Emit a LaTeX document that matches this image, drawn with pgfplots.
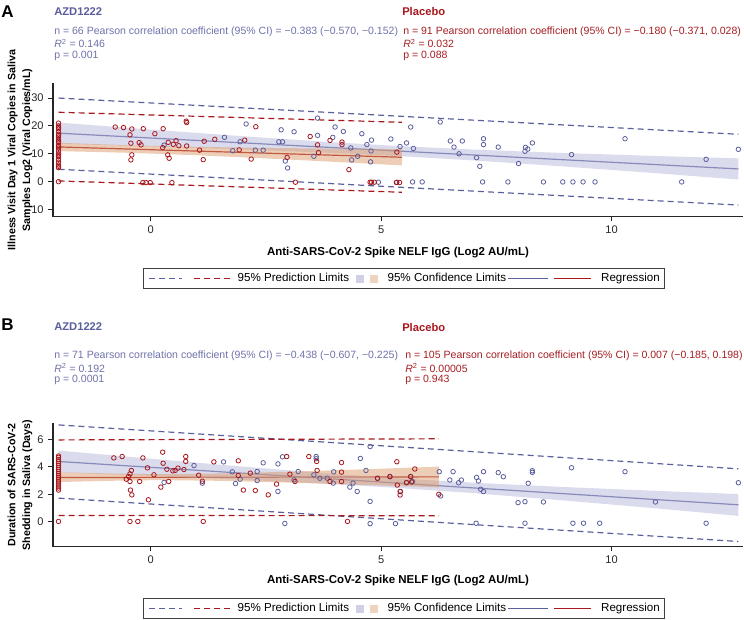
\documentclass[border=0pt]{standalone}
\usepackage{fontspec}
\setmainfont{Liberation Sans}
\usepackage{pgfplots}
\pgfplotsset{compat=1.18}

\definecolor{azd}{HTML}{5B5F9B}
\definecolor{azdtxt}{HTML}{6E72AA}
\definecolor{azdhead}{HTML}{5A5E9A}
\definecolor{pla}{HTML}{A8181E}
\definecolor{platxt}{HTML}{A41E22}
\definecolor{azdband}{HTML}{B5B7DA}
\definecolor{plaband}{HTML}{DB9B6B}

\newcommand{\statfont}{\fontsize{7.9}{9}\selectfont}
\newcommand{\headfont}{\bfseries\fontsize{8.4}{10}\selectfont}

\tikzset{
  pred/.style={line width=0.9pt, dash pattern=on 4.5pt off 3pt},
  reg/.style={line width=0.9pt},
  band/.style={draw=none, fill opacity=0.5},
}
\pgfplotsset{
  panel/.style={
    scale only axis, width=517.5pt,
    axis lines*=left,
    xmin=-2.12, xmax=12.85, xtick={0,5,10},
    tick align=outside, major tick length=3.5pt,
    axis line style={black!85, line width=0.9pt},
    tick style={black!85, line width=0.8pt},
    tick label style={font=\fontsize{8.3}{10}\selectfont, black!85},
    /pgf/number format/assume math mode=true,
    clip=false,
    legend style={draw=black!75, line width=0.6pt, fill=white,
      inner xsep=3.5pt, inner ysep=3.5pt, legend columns=6,
      font=\fontsize{8.7}{10}\selectfont, anchor=north,
      nodes={inner sep=0pt},
      /tikz/every even column/.append style={column sep=0pt},
      /tikz/every odd column/.append style={column sep=0pt}},
  },
  pts/.style={only marks, mark=o, mark size=1.7pt, mark options={line width=0.6pt}},
}

\newcommand{\panellegend}{%
  \addlegendimage{legend image code/.code={\path[draw=none, fill=none] (0pt,-3pt) rectangle (32.25pt,3pt); \draw[azd, pred] (0pt,0pt) -- (24.75pt,0pt);}}
  \addlegendentry{}
  \addlegendimage{legend image code/.code={\path[draw=none, fill=none] (0pt,-3pt) rectangle (33pt,3pt); \draw[pla, pred] (0pt,0pt) -- (29.25pt,0pt);}}
  \addlegendentry{95\% Prediction Limits}
  \addlegendimage{legend image code/.code={\path[draw=none, fill=none] (0pt,-3pt) rectangle (14.25pt,3pt); \path[draw=none, fill=azdband!65!white] (5.25pt,-3pt) rectangle (11.25pt,3pt);}}
  \addlegendentry{}
  \addlegendimage{legend image code/.code={\path[draw=none, fill=none] (0pt,-3pt) rectangle (13.5pt,3pt); \path[draw=none, fill=plaband!45!white] (0pt,-3pt) rectangle (6.5pt,3pt);}}
  \addlegendentry{95\% Confidence Limits}
  \addlegendimage{legend image code/.code={\path[draw=none, fill=none] (0pt,-3pt) rectangle (34.5pt,3pt); \draw[azd, reg] (1.5pt,0pt) -- (31.5pt,0pt);}}
  \addlegendentry{}
  \addlegendimage{legend image code/.code={\path[draw=none, fill=none] (0pt,-3pt) rectangle (35.25pt,3pt); \draw[pla, reg] (0pt,0pt) -- (27.75pt,0pt);}}
  \addlegendentry{Regression\hspace{4.5pt}}
}

\begin{document}
\begin{tikzpicture}

% ---------------- Panel A ----------------
\begin{axis}[panel, at={(39.75pt,-162.5pt)}, anchor=south west, height=100.05pt,
  ymin=-12.57, ymax=35.3, ytick={-10,0,10,20,30}, yticklabels={\textendash10,0,10,20,30},
  legend style={at={(0.5087,-0.388)}}]
\panellegend
\addplot[pts, azd, forget plot] table {
0.29 13.1
1.60 15.9
1.78 11.1
1.94 14.3
2.07 20.7
2.27 11.3
2.44 11.3
2.78 14.3
2.86 14.3
2.83 18.6
3.11 17.9
2.92 7.4
2.97 4.9
3.54 9.1
3.62 22.8
3.62 16.6
3.95 15.9
4.00 19.6
4.18 18.0
4.34 12.1
4.36 7.8
4.49 9.1
4.58 17.2
4.69 13.3
4.78 11.0
4.77 7.1
4.79 14.9
4.94 -0.2
5.21 15.3
5.41 12.6
5.34 -0.2
5.55 13.9
5.64 19.6
5.70 11.9
5.68 -0.1
5.89 -0.1
6.28 21.4
6.50 14.6
6.58 12.4
6.76 14.6
6.69 10.0
7.07 8.6
7.14 5.5
7.20 -0.1
7.22 15.4
7.22 13.3
7.54 12.4
7.75 -0.1
7.98 6.5
8.12 10.9
8.13 12.3
8.18 11.7
8.28 13.9
8.52 -0.1
8.94 -0.1
9.13 9.7
9.16 -0.1
9.38 -0.1
9.64 -0.1
10.29 15.4
11.52 -0.1
12.05 8.0
12.75 11.6
};
\addplot[pts, pla, forget plot] table {
-2.0 0.0
-2.0 5.0
-2.0 5.5
-2.0 6.0
-2.0 7.0
-2.0 8.0
-2.0 9.0
-2.0 9.5
-2.0 10.0
-2.0 11.0
-2.0 12.0
-2.0 12.5
-2.0 13.0
-2.0 14.0
-2.0 14.5
-2.0 15.0
-2.0 16.0
-2.0 16.5
-2.0 17.0
-2.0 18.0
-2.0 19.0
-2.0 19.5
-2.0 20.0
-2.0 21.0
-0.77 19.6
-0.59 19.4
-0.45 16.8
-0.41 18.9
-0.43 13.8
-0.41 9.6
-0.43 7.8
-0.25 14.0
-0.21 13.2
-0.16 19.0
-0.17 -0.35
-0.10 -0.35
-0.01 -0.35
0.09 17.2
0.27 19.0
0.26 12.2
0.38 14.1
0.49 13.4
0.55 14.7
0.61 12.9
0.37 9.6
0.40 8.4
0.46 -0.35
0.77 21.7
0.78 21.2
0.78 12.8
1.06 11.3
1.16 14.5
1.14 7.9
1.39 15.2
1.92 11.4
2.04 14.9
2.18 8.1
2.28 19.7
2.96 8.7
3.14 -0.2
3.46 16.2
3.62 13.2
3.64 10.4
3.89 14.8
4.15 14.2
4.15 13.3
4.30 4.3
4.76 -0.2
4.79 -0.2
4.85 -0.2
5.34 10.6
5.33 -0.3
5.40 -0.3
};
\addplot[reg, azd, forget plot] coordinates {(-2,17.4) (12.75,4.56)};
\addplot[reg, pla, forget plot] coordinates {(-2,12.46) (5.45,8.75)};
\addplot[band, fill=azdband, forget plot] coordinates {
(-2,21.2) (0,18.69) (2,16.29) (4,14.09) (5.4,12.76) (7,11.51) (9,10.25) (11,9.19) (12.75,8.36)
(12.75,0.76) (11,2.99) (9,5.41) (7,7.63) (5.4,9.16) (4,10.27) (2,11.55) (0,12.63) (-2,13.6)} -- cycle;
\addplot[band, fill=plaband, forget plot] coordinates {
(-2,13.96) (-0.5,13.06) (1,12.47) (2.5,12.10) (4,11.85) (5.45,11.67)
(5.45,5.83) (4,7.09) (2.5,8.34) (1,9.47) (-0.5,10.36) (-2,10.96)} -- cycle;
\addplot[pred, azd, forget plot] coordinates {(-2,30.0) (12.75,17.0)};
\addplot[pred, azd, forget plot] coordinates {(-2,4.45) (12.75,-8.4)};
\addplot[pred, pla, forget plot] coordinates {(-2,24.9) (5.45,21.3)};
\addplot[pred, pla, forget plot] coordinates {(-2,0.25) (5.45,-3.8)};
\end{axis}

% ---------------- Panel B ----------------
\begin{axis}[panel, at={(39.75pt,-410pt)}, anchor=south west, height=92.55pt,
  ymin=-1.85, ymax=7.2, ytick={0,2,4,6},
  legend style={at={(0.5087,-0.418)}}]
\panellegend
\addplot[pts, azd, forget plot] table {
0.29 2.86
0.94 4.10
1.12 2.81
1.58 4.37
1.77 3.64
1.84 2.78
1.94 3.10
2.31 3.66
2.31 3.00
2.44 4.30
2.76 4.22
2.76 2.20
2.86 4.74
2.91 -0.15
3.11 3.05
3.20 3.66
3.54 3.42
3.59 4.76
3.59 4.60
3.67 3.17
3.83 3.17
3.97 3.64
3.96 2.81
4.32 2.52
4.39 2.81
4.48 2.20
4.55 4.62
4.67 3.74
4.76 5.49
4.76 1.47
4.76 -0.16
4.92 3.17
5.19 3.30
5.31 -0.16
5.42 2.20
5.55 2.86
5.64 3.30
5.68 2.93
6.26 3.65
6.29 1.87
6.49 3.04
6.56 3.65
6.68 2.84
6.74 3.04
7.06 -0.13
7.07 3.23
7.11 2.97
7.16 2.36
7.22 3.65
7.22 2.19
7.54 3.58
7.65 3.28
7.97 1.38
8.12 1.45
8.12 -0.13
8.19 2.80
8.28 3.72
8.28 3.60
8.52 1.43
9.13 3.94
9.16 -0.13
9.39 -0.13
9.74 -0.13
10.29 3.65
10.95 1.43
12.05 -0.13
12.75 2.84
};
\addplot[pts, pla, forget plot] table {
-2.0 0.0
-2.0 2.30
-2.0 2.45
-2.0 2.60
-2.0 2.75
-2.0 2.90
-2.0 3.05
-2.0 3.20
-2.0 3.35
-2.0 3.50
-2.0 3.65
-2.0 3.80
-2.0 3.95
-2.0 4.10
-2.0 4.25
-2.0 4.40
-2.0 4.55
-2.0 4.70
-2.0 4.80
-0.80 4.66
-0.62 4.76
-0.53 3.10
-0.48 3.30
-0.45 3.49
-0.45 2.93
-0.42 3.74
-0.44 2.30
-0.41 1.95
-0.45 0.0
-0.28 0.0
-0.24 2.93
-0.17 4.66
-0.07 3.93
-0.05 1.59
0.07 3.42
0.22 2.52
0.26 5.08
0.27 4.27
0.35 3.83
0.39 2.93
0.48 3.71
0.53 3.74
0.59 3.91
0.72 3.81
0.76 4.40
0.76 4.76
1.04 3.39
1.12 2.95
1.14 0.0
1.37 4.37
1.90 4.45
1.90 3.37
2.01 2.30
2.16 3.54
2.27 2.27
2.55 1.95
2.73 2.74
2.95 4.76
3.02 3.47
3.13 2.93
3.43 4.76
3.60 4.40
3.61 3.74
3.89 2.93
4.14 4.32
4.14 2.93
4.14 3.62
4.27 0.0
4.92 3.16
5.19 3.28
5.34 4.38
5.41 2.19
5.41 1.94
5.35 2.67
5.55 2.84
5.64 3.28
5.66 2.89
5.73 3.85
6.25 1.99
};
\addplot[reg, azd, forget plot] coordinates {(-2,4.40) (12.75,1.22)};
\addplot[reg, pla, forget plot] coordinates {(-2,3.22) (6.25,3.27)};
\addplot[band, fill=azdband, forget plot] coordinates {
(-2,5.20) (0,4.60) (2,4.02) (4,3.48) (5.4,3.15) (7,2.84) (9,2.52) (11,2.24) (12.75,2.01)
(12.75,0.41) (11,0.95) (9,1.53) (7,2.08) (5.4,2.45) (4,2.73) (2,3.06) (0,3.34) (-2,3.60)} -- cycle;
\addplot[band, fill=plaband, forget plot] coordinates {
(-2,3.61) (-0.5,3.49) (0.3,3.47) (1.5,3.52) (3,3.65) (4.5,3.81) (6.25,4.02)
(6.25,2.50) (4.5,2.69) (3,2.85) (1.5,2.98) (0.3,3.03) (-0.5,3.01) (-2,2.89)} -- cycle;
\addplot[pred, azd, forget plot] coordinates {(-2,7.08) (12.75,3.86)};
\addplot[pred, azd, forget plot] coordinates {(-2,1.71) (12.75,-1.47)};
\addplot[pred, pla, forget plot] coordinates {(-2,5.98) (6.25,6.06)};
\addplot[pred, pla, forget plot] coordinates {(-2,0.44) (6.25,0.42)};
\end{axis}

% ---------------- texts (pixel grid) ----------------
\begin{scope}[x=0.75pt, y=-0.75pt]
\path[use as bounding box] (0,0) rectangle (744,619);
\node[anchor=west, inner sep=0pt, font=\bfseries\fontsize{12.75}{14}\selectfont] at (1,11.7) {A};
\node[anchor=west, inner sep=0pt, font=\headfont, text=azdhead] at (54,11.7) {AZD1222};
\node[anchor=west, inner sep=0pt, font=\headfont, text=pla] at (402,11.7) {Placebo};
\node[anchor=west, inner sep=0pt, font=\statfont, text=azdtxt] at (54,31.5) {n = 66 Pearson correlation coefficient (95\% CI) = −0.383 (−0.570, −0.152)};
\node[anchor=west, inner sep=0pt, font=\statfont, text=azdtxt] at (54,43.5) {\textit{R}\textsuperscript{2} = 0.146};
\node[anchor=west, inner sep=0pt, font=\statfont, text=azdtxt] at (54,55.5) {p = 0.001};
\node[anchor=west, inner sep=0pt, font=\statfont, text=platxt] at (403,31.5) {n = 91 Pearson correlation coefficient (95\% CI) = −0.180 (−0.371, 0.028)};
\node[anchor=west, inner sep=0pt, font=\statfont, text=platxt] at (403,43.5) {\textit{R}\textsuperscript{2} = 0.032};
\node[anchor=west, inner sep=0pt, font=\statfont, text=platxt] at (403,55.5) {p = 0.088};
\node[rotate=90, align=center, font=\bfseries\fontsize{8}{11}\selectfont] at (20,150) {Illness Visit Day 1 Viral Copies in Saliva\\Samples Log2 (Viral Copies/mL)};
\node[font=\bfseries\fontsize{8.6}{10}\selectfont] at (398,253) {Anti-SARS-CoV-2 Spike NELF IgG (Log2 AU/mL)};

\node[anchor=west, inner sep=0pt, font=\bfseries\fontsize{12.75}{14}\selectfont] at (1,325) {B};
\node[anchor=west, inner sep=0pt, font=\headfont, text=azdhead] at (54,327) {AZD1222};
\node[anchor=west, inner sep=0pt, font=\headfont, text=pla] at (402,327) {Placebo};
\node[anchor=west, inner sep=0pt, font=\statfont, text=azdtxt] at (54,356) {n = 71 Pearson correlation coefficient (95\% CI) = −0.438 (−0.607, −0.225)};
\node[anchor=west, inner sep=0pt, font=\statfont, text=azdtxt] at (54,368) {\textit{R}\textsuperscript{2} = 0.192};
\node[anchor=west, inner sep=0pt, font=\statfont, text=azdtxt] at (54,380) {p = 0.0001};
\node[anchor=west, inner sep=0pt, font=\statfont, text=platxt] at (405,356) {n = 105 Pearson correlation coefficient (95\% CI) = 0.007 (−0.185, 0.198)};
\node[anchor=west, inner sep=0pt, font=\statfont, text=platxt] at (405,368) {\textit{R}\textsuperscript{2} = 0.00005};
\node[anchor=west, inner sep=0pt, font=\statfont, text=platxt] at (405,380) {p = 0.943};
\node[rotate=90, align=center, font=\bfseries\fontsize{8}{11}\selectfont] at (20,485) {Duration of SARS-CoV-2\\Shedding in Saliva (Days)};
\node[font=\bfseries\fontsize{8.6}{10}\selectfont] at (398,581) {Anti-SARS-CoV-2 Spike NELF IgG (Log2 AU/mL)};
\end{scope}

\end{tikzpicture}
\end{document}
